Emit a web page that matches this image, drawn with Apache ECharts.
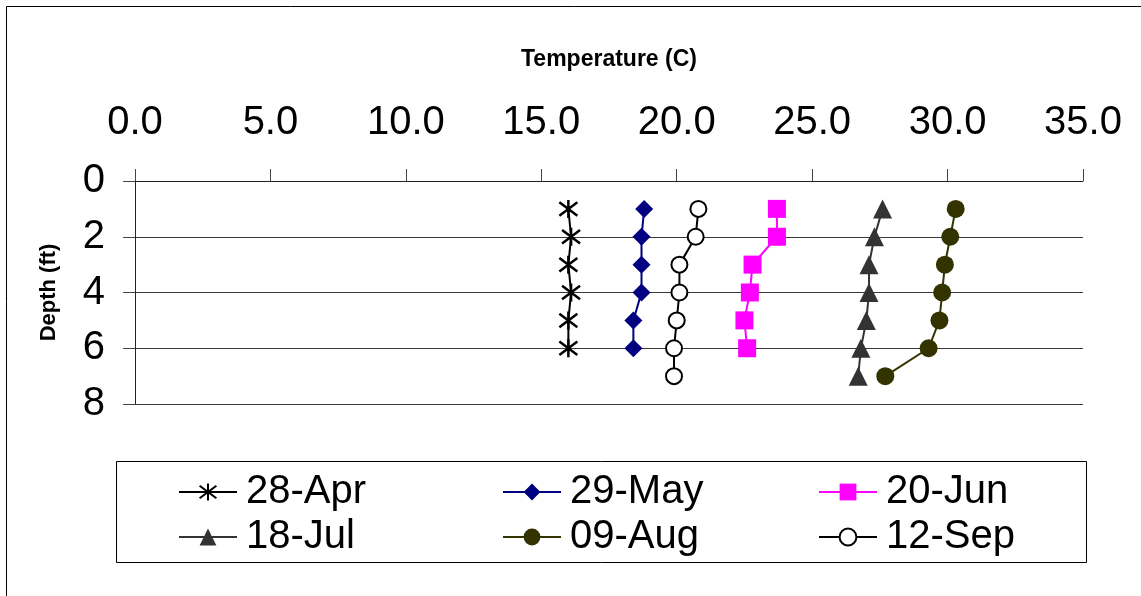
<!DOCTYPE html>
<html>
<head>
<meta charset="utf-8">
<title>Temperature profile by depth</title>
<script src="https://cdn.jsdelivr.net/npm/echarts@6/dist/echarts.min.js"></script>
<style>
  html, body { margin: 0; padding: 0; background: #fff; }
  #chart { width: 1141px; height: 596px; }
</style>
</head>
<body>
<div id="chart"></div>
<script>
// Depths (ft) at which temperature was recorded
const depths6 = [1, 2, 3, 4, 5, 6];
const depths7 = [1, 2, 3, 4, 5, 6, 7];

// Water temperature (C) per survey date, top to bottom
const apr28 = [16.0, 16.1, 16.0, 16.1, 16.0, 16.0];
const may29 = [18.8, 18.7, 18.7, 18.7, 18.4, 18.4];
const jun20 = [23.7, 23.7, 22.8, 22.7, 22.5, 22.6];
const jul18 = [27.6, 27.3, 27.1, 27.1, 27.0, 26.8, 26.7];
const aug09 = [30.3, 30.1, 29.9, 29.8, 29.7, 29.3, 27.7];
const sep12 = [20.8, 20.7, 20.1, 20.1, 20.0, 19.9, 19.9];

const seriesNames = ['28-Apr', '29-May', '20-Jun', '18-Jul', '09-Aug', '12-Sep'];

const FONT = 'Liberation Sans, Arial, sans-serif';

function pairs(temps, depths) {
  return temps.map((t, i) => [t, depths[i]]);
}

// Star marker: vertical stroke crossed by an X
const asterisk = 'path://M10,0L10,20M1,2.5L19,17.5M1,17.5L19,2.5';

const chart = echarts.init(document.getElementById('chart'), null, { renderer: 'canvas' });

const legendText = { fontSize: 40, fontFamily: FONT, color: '#000', lineHeight: 40, padding: [0, 0, 0, 4] };
function legendCol(left, names) {
  return {
    data: names,
    orient: 'vertical',
    left: left,
    top: 472,
    padding: 0,
    itemWidth: 58,
    itemHeight: 21,
    itemGap: 5,
    selectedMode: false,
    textStyle: legendText
  };
}

chart.setOption({
  animation: false,
  backgroundColor: '#fff',
  grid: { left: 135, right: 58, top: 181, bottom: 192, containLabel: false },
  xAxis: {
    type: 'value',
    position: 'top',
    min: 0, max: 35, interval: 5,
    name: 'Temperature (C)',
    nameLocation: 'middle',
    nameGap: 110,
    nameTextStyle: { fontSize: 23, fontWeight: 'bold', fontFamily: FONT, color: '#000' },
    axisLine: { show: true, onZero: false, lineStyle: { color: '#222', width: 1 } },
    axisTick: { show: true, inside: false, length: 12, lineStyle: { color: '#444', width: 1 } },
    axisLabel: { fontSize: 40, fontFamily: FONT, color: '#000', margin: 38, formatter: v => v.toFixed(1) },
    splitLine: { show: false }
  },
  yAxis: {
    type: 'value',
    inverse: true,
    min: 0, max: 8, interval: 2,
    name: 'Depth (ft)',
    nameLocation: 'middle',
    nameRotate: 90,
    nameGap: 75,
    nameTextStyle: { fontSize: 22, fontWeight: 'bold', fontFamily: FONT, color: '#000' },
    axisLine: { show: true, onZero: false, lineStyle: { color: '#222', width: 1 } },
    axisTick: { show: true, inside: false, length: 12, lineStyle: { color: '#444', width: 1 } },
    axisLabel: { fontSize: 40, fontFamily: FONT, color: '#000', margin: 30, padding: [8, 0, 0, 0] },
    splitLine: { show: true, lineStyle: { color: '#3a3a3a', width: 1 } }
  },
  legend: [
    legendCol(178, ['28-Apr', '18-Jul']),
    legendCol(502, ['29-May', '09-Aug']),
    legendCol(818, ['20-Jun', '12-Sep'])
  ],
  graphic: [
    { type: 'rect', shape: { x: 6.5, y: 6.5, width: 1150, height: 600 },
      style: { fill: 'none', stroke: '#000', lineWidth: 1 }, silent: true },
    { type: 'rect', shape: { x: 116.5, y: 461.5, width: 970, height: 101 },
      style: { fill: 'none', stroke: '#000', lineWidth: 1 }, silent: true, z: -1 }
  ],
  series: [
    {
      name: seriesNames[0], type: 'line', data: pairs(apr28, depths6),
      symbol: asterisk, symbolSize: [18, 18],
      lineStyle: { color: '#000', width: 2 },
      itemStyle: { color: 'none', borderColor: '#000', borderWidth: 2.5 }
    },
    {
      name: seriesNames[1], type: 'line', data: pairs(may29, depths6),
      symbol: 'diamond', symbolSize: 18,
      lineStyle: { color: '#000080', width: 2 },
      itemStyle: { color: '#000080' }
    },
    {
      name: seriesNames[2], type: 'line', data: pairs(jun20, depths6),
      symbol: 'rect', symbolSize: 18,
      lineStyle: { color: '#ff00ff', width: 2 },
      itemStyle: { color: '#ff00ff' }
    },
    {
      name: seriesNames[3], type: 'line', data: pairs(jul18, depths7),
      symbol: 'triangle', symbolSize: 19,
      lineStyle: { color: '#333333', width: 2 },
      itemStyle: { color: '#333333' }
    },
    {
      name: seriesNames[4], type: 'line', data: pairs(aug09, depths7),
      symbol: 'circle', symbolSize: 18,
      lineStyle: { color: '#333300', width: 2 },
      itemStyle: { color: '#333300' }
    },
    {
      name: seriesNames[5], type: 'line', data: pairs(sep12, depths7),
      symbol: 'circle', symbolSize: 16,
      lineStyle: { color: '#000', width: 2 },
      itemStyle: { color: '#fff', borderColor: '#000', borderWidth: 2 }
    }
  ]
});
</script>
</body>
</html>
